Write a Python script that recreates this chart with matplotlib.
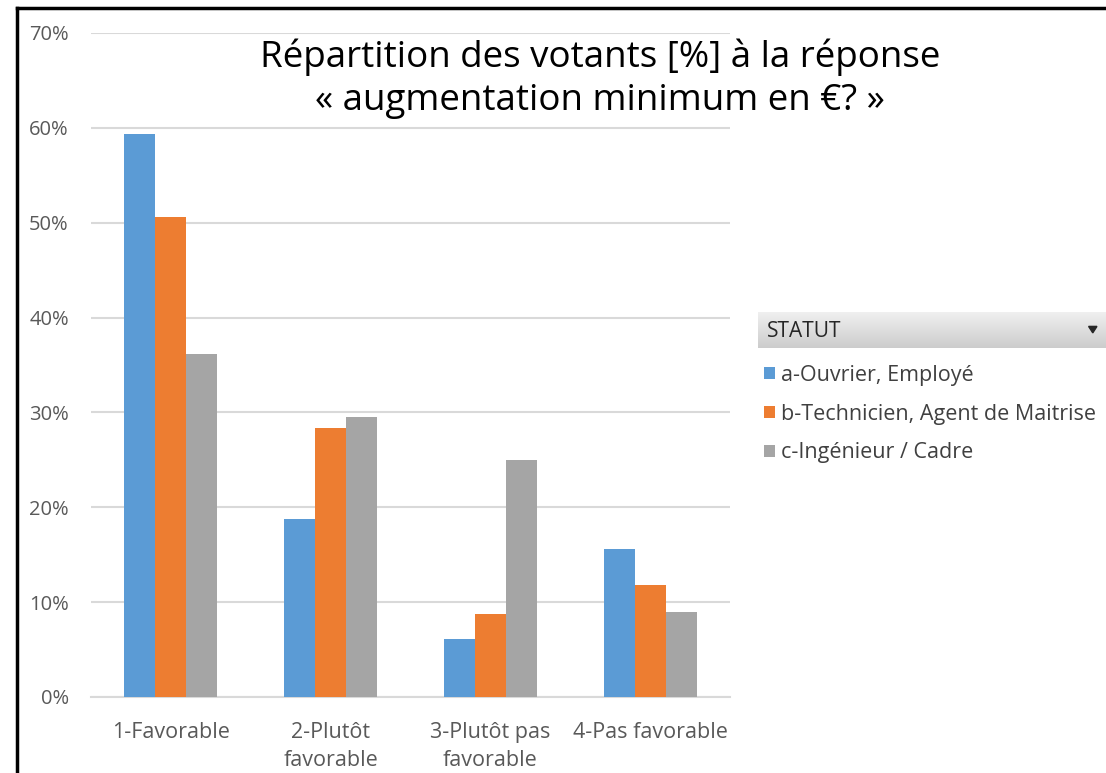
import matplotlib
matplotlib.use("Agg")
import matplotlib.pyplot as plt
import numpy as np
from matplotlib.lines import Line2D
from matplotlib.patches import Polygon

categories = ["1-Favorable", "2-Plutôt\nfavorable", "3-Plutôt pas\nfavorable", "4-Pas favorable"]
series_names = ["a-Ouvrier, Employé", "b-Technicien, Agent de Maitrise", "c-Ingénieur / Cadre"]
ouvrier = [59.3, 18.8, 6.1, 15.6]
technicien = [50.6, 28.4, 8.8, 11.8]
ingenieur = [36.2, 29.5, 25.0, 9.0]
yticks = [0, 10, 20, 30, 40, 50, 60, 70]
title = "Répartition des votants [%] à la réponse\n« augmentation minimum en €? »"
legend_title = "STATUT"

colors = ["#5B9BD5", "#ED7D31", "#A5A5A5"]
FONT = ["Open Sans", "DejaVu Sans"]
plt.rcParams["font.family"] = FONT

W, H = 1106, 773
fig = plt.figure(figsize=(W / 100, H / 100), dpi=100)
fig.patch.set_facecolor("white")

ax = fig.add_axes([91 / W, 1 - 697 / H, (730 - 91) / W, (697 - 33) / H])
x = np.arange(len(categories))
bw = 0.194
for i, (vals, c, name) in enumerate(zip([ouvrier, technicien, ingenieur], colors, series_names)):
    ax.bar(x + (i - 1) * bw, vals, width=bw, color=c, label=name, zorder=3)

ax.set_xlim(-0.5, len(categories) - 0.5)
ax.set_ylim(0, 70)
ax.set_yticks(yticks)
ax.set_yticklabels([f"{t}%" for t in yticks])
ax.set_xticks(x)
ax.set_xticklabels(categories, linespacing=1.45)
ax.tick_params(axis="both", length=0, colors="#595959")
ax.tick_params(axis="y", labelsize=14.5, pad=16)
ax.tick_params(axis="x", labelsize=15.5, pad=18)
ax.grid(axis="y", color="#D9D9D9", linewidth=1.5, zorder=0)
for s in ["top", "right", "left"]:
    ax.spines[s].set_visible(False)
ax.spines["bottom"].set_color("#D9D9D9")
ax.spines["bottom"].set_linewidth(1.5)

# title
fig.text(600 / W, 1 - 79 / H, title, ha="center", va="center", fontsize=26.5,
         color="black", linespacing=1.25)

# border (cut at right and bottom)
fig.add_artist(Line2D([17 / W, 17 / W], [0, 1 - 8 / H], color="black", lw=2.5))
fig.add_artist(Line2D([17 / W, 1.01], [1 - 8 / H, 1 - 8 / H], color="black", lw=2.5))

# legend header bar with gradient
hax = fig.add_axes([758 / W, 1 - 348 / H, (W - 758) / W, 36 / H])
grad = np.linspace(0.94, 0.80, 50).reshape(-1, 1)
hax.imshow(np.dstack([grad, grad, grad]), aspect="auto", extent=[0, 1, 0, 1])
hax.set_xlim(0, 1)
hax.set_ylim(0, 1)
hax.axis("off")
hax.text(0.025, 0.47, legend_title, ha="left", va="center", fontsize=15, color="#262626")
hax.add_patch(Polygon([[0.95, 0.6], [0.974, 0.6], [0.962, 0.42]], closed=True, color="#262626"))

handles, labels = ax.get_legend_handles_labels()
leg = fig.legend(handles, labels, loc="upper left", bbox_to_anchor=(764 / W, 1 - 365 / H),
                 frameon=False, fontsize=15.5, handlelength=0.5, handleheight=0.5,
                 handletextpad=0.3, labelspacing=0.82, borderaxespad=0, borderpad=0)
for t in leg.get_texts():
    t.set_color("#404040")

fig.savefig("out.png", dpi=100, facecolor="white")
